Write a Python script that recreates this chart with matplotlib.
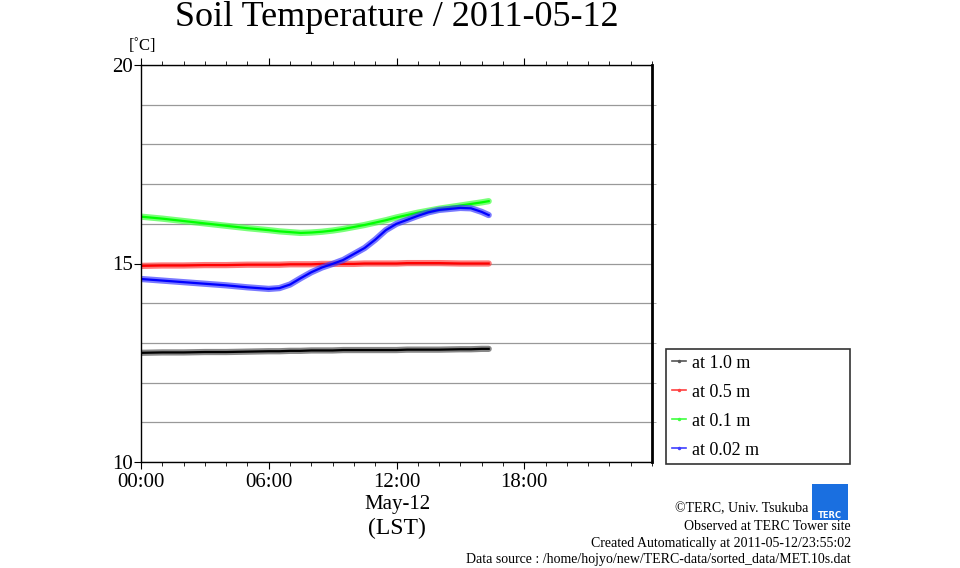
import numpy as np
import matplotlib.pyplot as plt
import matplotlib as mpl
from matplotlib.patches import Rectangle
from matplotlib.ticker import MultipleLocator, FixedLocator

plt.rcParams['font.family'] = ['Liberation Serif', 'DejaVu Serif']

# hours since 00:00 LST
hours = [0, 1, 2, 3, 4, 5, 6, 6.5, 7, 7.5, 8, 8.5, 9, 9.5, 10, 10.5, 11, 11.5,
         12, 12.5, 13, 13.5, 14, 15, 15.5, 16, 16.33]

t_100 = [12.75, 12.76, 12.76, 12.77, 12.77, 12.78, 12.79, 12.79, 12.80, 12.80, 12.81,
         12.81, 12.81, 12.82, 12.82, 12.82, 12.82, 12.82, 12.82, 12.83, 12.83, 12.83,
         12.83, 12.84, 12.84, 12.85, 12.85]
t_050 = [14.94, 14.95, 14.95, 14.96, 14.96, 14.97, 14.97, 14.97, 14.98, 14.98, 14.98,
         14.99, 14.99, 14.99, 14.99, 15.00, 15.00, 15.00, 15.00, 15.01, 15.01, 15.01,
         15.01, 15.00, 15.00, 15.00, 15.00]
t_010 = [16.18, 16.13, 16.07, 16.01, 15.95, 15.89, 15.84, 15.81, 15.79, 15.77, 15.78,
         15.80, 15.83, 15.87, 15.92, 15.97, 16.03, 16.09, 16.16, 16.22, 16.28, 16.33,
         16.38, 16.46, 16.50, 16.54, 16.57]
t_002 = [14.61, 14.57, 14.53, 14.49, 14.45, 14.40, 14.36, 14.38, 14.47, 14.63, 14.78,
         14.90, 14.99, 15.09, 15.24, 15.39, 15.60, 15.84, 16.00, 16.10, 16.20, 16.29,
         16.35, 16.40, 16.39, 16.30, 16.22]

labels = ['at 1.0 m', 'at 0.5 m', 'at 0.1 m', 'at 0.02 m']
colors = ['#000000', '#ff0000', '#00ff00', '#0000ff']
band_colors = ['#555555', '#ff4040', '#40ff40', '#4040ff']

xtick_pos = [0, 6, 12, 18]
xtick_lab = ['00:00', '06:00', '12:00', '18:00']

fig = plt.figure(figsize=(9.6, 5.68), dpi=100)
fig.patch.set_facecolor('white')
ax = fig.add_axes([141/960, 1 - 462/568, 511/960, 397/568])

series = [t_100, t_050, t_010, t_002]
handles = []
for vals, c, bc, lab in zip(series, colors, band_colors, labels):
    ax.plot(hours, vals, color=bc, lw=4.5, alpha=0.7, solid_capstyle='round')
    ax.plot(hours, vals, color=c, lw=1.6)
    h, = ax.plot([], [], color=bc, lw=1.2, marker='.', markersize=3, label=lab)
    handles.append(h)

ax.set_xlim(0, 24)
ax.set_ylim(10, 20)
ax.xaxis.set_major_locator(FixedLocator(xtick_pos))
ax.set_xticklabels(xtick_lab)
ax.xaxis.set_minor_locator(MultipleLocator(1))
ax.yaxis.set_major_locator(FixedLocator([10, 15, 20]))
ax.yaxis.set_minor_locator(MultipleLocator(1))
ax.grid(axis='y', which='both', color='#999999', lw=0.9)
ax.set_axisbelow(True)

ax.tick_params(axis='x', which='both', direction='out', top=True, bottom=True,
               labelsize=15, color='black', pad=3)
ax.tick_params(axis='x', which='major', length=5, width=0.8)
ax.tick_params(axis='x', which='minor', length=3, width=0.6)
ax.tick_params(axis='y', which='major', direction='out', left=True, right=False,
               length=5, width=0.8, labelsize=15, pad=1)
ax.tick_params(axis='y', which='minor', direction='out', left=False, right=True,
               length=3, color='#999999')
for s in ['left', 'bottom', 'top']:
    ax.spines[s].set_linewidth(1.0)
ax.spines['right'].set_linewidth(2.0)

fig.text(397/960, 1 - 17/568, 'Soil Temperature / 2011-05-12', ha='center', va='center', fontsize=26)
fig.text(142/960, 1 - 46/568, '[˚C]', ha='center', va='center', fontsize=12)
fig.text(397/960, 1 - 505/568, 'May-12', ha='center', va='center', fontsize=15)
fig.text(397/960, 1 - 528/568, '(LST)', ha='center', va='center', fontsize=17)

leg = fig.legend(handles=handles, loc='upper left',
                 bbox_to_anchor=(666/960, 1 - 462/568, 184/960, 113/568), mode='expand',
                 fontsize=13, frameon=True, fancybox=False, edgecolor='black',
                 handlelength=0.8, handletextpad=0.3, labelspacing=0.66,
                 borderpad=0.32, borderaxespad=0)
leg.get_frame().set_linewidth(1.2)

fig.text(808/960, 1 - 509/568, '©TERC, Univ. Tsukuba', ha='right', va='center', fontsize=10)
fig.text(851/960, 1 - 526/568, 'Observed at TERC Tower site', ha='right', va='center', fontsize=10)
fig.text(851/960, 1 - 543/568, 'Created Automatically at 2011-05-12/23:55:02', ha='right', va='center', fontsize=10)
fig.text(851/960, 1 - 560/568, 'Data source : /home/hojyo/new/TERC-data/sorted_data/MET.10s.dat',
         ha='right', va='center', fontsize=10)

# logo
fig.patches.append(Rectangle((812/960, 1 - 520/568), 36/960, 36/568, transform=fig.transFigure,
                             facecolor='#1a6fe0', edgecolor='none'))
fig.text(830/960, 1 - 515/568, 'TERC', ha='center', va='center', fontsize=6, color='white',
         family='DejaVu Sans', weight='bold')

fig.savefig('out.png', dpi=100)
